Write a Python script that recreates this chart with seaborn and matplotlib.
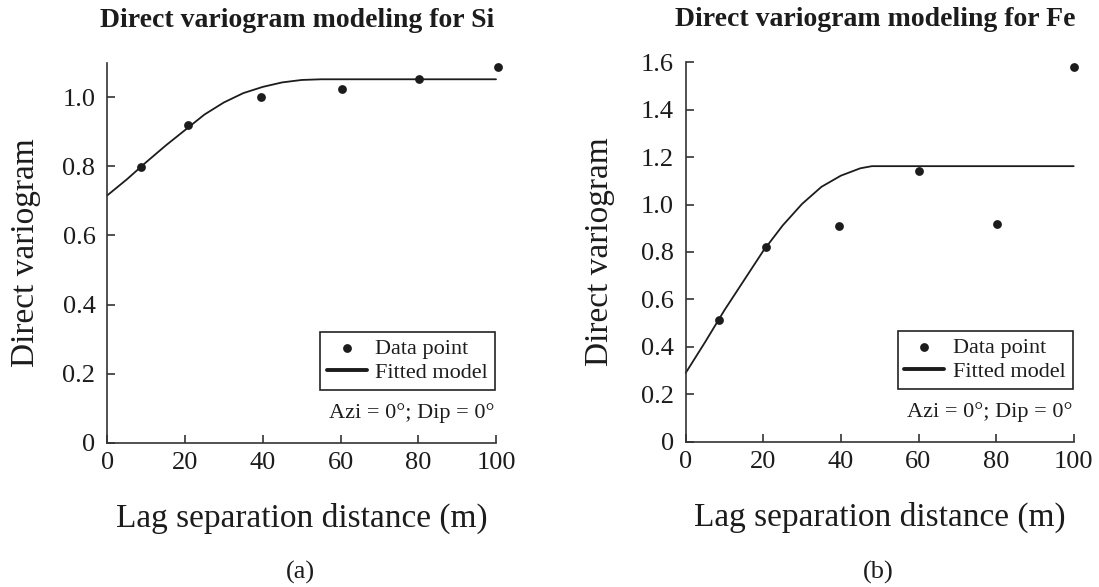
import matplotlib
matplotlib.use("Agg")
import matplotlib.pyplot as plt
import seaborn as sns
from matplotlib.ticker import FuncFormatter

# ---- data ----
si_lag = [8.7, 20.7, 39.5, 60.3, 80.3, 100.4]
si_gamma = [0.797, 0.919, 1.000, 1.024, 1.053, 1.087]
si_model_lag = [0, 5, 10, 15, 20, 25, 30, 35, 40, 45, 50, 55, 100]
si_model_gamma = [0.716, 0.762, 0.812, 0.860, 0.905, 0.950, 0.985, 1.012,
                  1.030, 1.043, 1.050, 1.052, 1.052]

fe_lag = [8.6, 20.6, 39.5, 60.1, 80.2, 100.2]
fe_gamma = [0.512, 0.823, 0.908, 1.140, 0.919, 1.580]
fe_model_lag = [0, 5, 10, 15, 20, 25, 30, 35, 40, 45, 48, 100]
fe_model_gamma = [0.290, 0.420, 0.555, 0.680, 0.805, 0.912, 1.003, 1.075,
                  1.122, 1.153, 1.162, 1.162]

titles = ["Direct variogram modeling for Si", "Direct variogram modeling for Fe"]
sublabels = ["(a)", "(b)"]
x_ticks = [0, 20, 40, 60, 80, 100]
si_yticks = [0, 0.2, 0.4, 0.6, 0.8, 1.0]
fe_yticks = [0, 0.2, 0.4, 0.6, 0.8, 1.0, 1.2, 1.4, 1.6]

sns.set_theme(style="ticks")
plt.rcParams["font.family"] = ["Liberation Serif", "DejaVu Serif"]
plt.rcParams["mathtext.fontset"] = "custom"

INK = "#1c1c1c"
W, H = 1099, 587
fig = plt.figure(figsize=(W / 100, H / 100), dpi=100)

ax1 = fig.add_axes([107.3 / W, 1 - 442.7 / H, 388.7 / W, 380.0 / H])
ax2 = fig.add_axes([685.7 / W, 1 - 441.7 / H, 388.0 / W, 379.4 / H])

panels = [
    (ax1, si_lag, si_gamma, si_model_lag, si_model_gamma, si_yticks, 1.1, -0.171),
    (ax2, fe_lag, fe_gamma, fe_model_lag, fe_model_gamma, fe_yticks, 1.6, -0.182),
]

yfmt = FuncFormatter(lambda v, p: "0" if abs(v) < 1e-9 else f"{v:.1f}")

for i, (ax, lx, ly, mx, my, yt, ytop, ylab_x) in enumerate(panels):
    sns.scatterplot(x=lx, y=ly, ax=ax, color=INK, s=40, edgecolor=INK,
                    linewidth=0, label="Data point", clip_on=False, zorder=3)
    sns.lineplot(x=mx, y=my, ax=ax, color=INK, linewidth=1.3, sort=False,
                 label="Fitted model", clip_on=False, zorder=2)
    ax.set_xlim(0, 100)
    ax.set_ylim(0, ytop)
    ax.set_xticks(x_ticks)
    ax.set_yticks(yt)
    ax.yaxis.set_major_formatter(yfmt)
    for s in ["top", "right"]:
        ax.spines[s].set_visible(False)
    for s in ["left", "bottom"]:
        ax.spines[s].set_linewidth(1.2)
        ax.spines[s].set_color("#333333")
    ax.tick_params(axis="both", direction="in", length=5.5, width=1.2,
                   color="#333333", labelsize=19, labelcolor=INK)
    ax.tick_params(axis="x", pad=6.5)
    ax.tick_params(axis="y", pad=8.5)
    ax.set_xlabel("Lag separation distance (m)", fontsize=24, color=INK)
    ax.set_ylabel("Direct variogram", fontsize=24, color=INK)
    ax.xaxis.set_label_coords(0.5, -0.157)
    ax.yaxis.set_label_coords(ylab_x, 0.5)
    ax.set_title(titles[i], fontsize=20, fontweight="bold", color=INK,
                 pad=26, x=0.488)
    leg = ax.legend(loc="lower right", bbox_to_anchor=(0.997, 0.140),
                    borderaxespad=0, fontsize=16, frameon=True, fancybox=False,
                    edgecolor="#222222", framealpha=1, borderpad=0.3,
                    labelspacing=0.15, handlelength=1.8, handletextpad=0.4,
                    markerscale=1.0)
    leg.get_frame().set_linewidth(1.2)
    for t in leg.get_texts():
        t.set_color(INK)
    for ln in leg.get_lines():
        ln.set_linewidth(2.8)
    ax.text(0.997, 0.065, "Azi = 0°; Dip = 0°", transform=ax.transAxes,
            ha="right", va="baseline", fontsize=16, color=INK)

fig.text(300.5 / W, 1 - 572.5 / H, sublabels[0], ha="center", va="center",
         fontsize=19, color=INK)
fig.text(878.5 / W, 1 - 572.5 / H, sublabels[1], ha="center", va="center",
         fontsize=19, color=INK)

fig.savefig("out.png", dpi=100)
